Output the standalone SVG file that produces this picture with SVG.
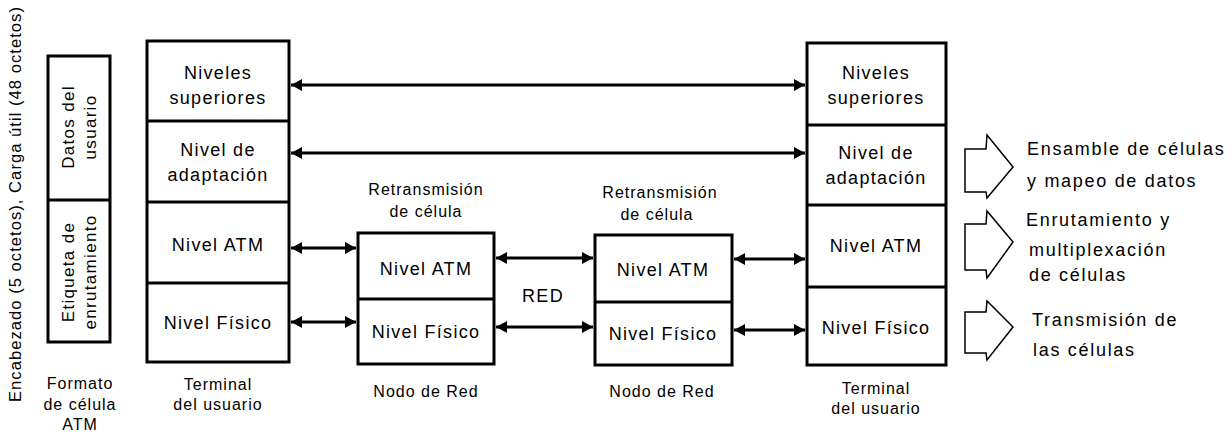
<svg xmlns="http://www.w3.org/2000/svg" width="1232" height="432" viewBox="0 0 1232 432">
<style>
.box{fill:#fff;stroke:#000;stroke-width:3}
.t{font-family:"Liberation Sans",Arial,sans-serif;font-size:18px;letter-spacing:1.3px;fill:#000;text-anchor:middle}
.s{font-family:"Liberation Sans",Arial,sans-serif;font-size:16px;letter-spacing:1px;fill:#000;text-anchor:middle}
.c{font-family:"Liberation Sans",Arial,sans-serif;font-size:17px;letter-spacing:1.3px;fill:#000;text-anchor:middle}
.r{font-family:"Liberation Sans",Arial,sans-serif;font-size:18px;letter-spacing:1.7px;fill:#000;text-anchor:start}
.con{stroke:#000;stroke-width:3;fill:none;marker-start:url(#ah);marker-end:url(#ah)}
.blk{fill:#fff;stroke:#000;stroke-width:1.5;stroke-linejoin:miter}
.div{stroke:#000;stroke-width:3}
</style>
<defs>
<marker id="ah" markerUnits="userSpaceOnUse" markerWidth="11" markerHeight="12" refX="11" refY="6" orient="auto-start-reverse">
<path d="M0,0 L11,6 L0,12 z" fill="#000"/>
</marker>
</defs>
<rect width="1232" height="432" fill="#fff"/>

<g id="cell-format">
<text class="s" transform="translate(21,204) rotate(-90)" textLength="396" lengthAdjust="spacingAndGlyphs">Encabezado (5 octetos), Carga útil (48 octetos)</text>
<rect class="box" x="48" y="56" width="62" height="286"/>
<line class="div" x1="48" y1="200" x2="110" y2="200"/>
<text class="c" transform="translate(74,127) rotate(-90)">Datos del</text>
<text class="c" transform="translate(96,127) rotate(-90)">usuario</text>
<text class="c" transform="translate(74,272) rotate(-90)">Etiqueta de</text>
<text class="c" transform="translate(96,272) rotate(-90)">enrutamiento</text>
<text class="s" x="80" y="389">Formato</text>
<text class="s" x="80" y="410">de célula</text>
<text class="s" x="80" y="430">ATM</text>
</g>

<g id="terminal-left">
<rect class="box" x="147" y="41" width="142" height="321"/>
<line class="div" x1="147" y1="121" x2="289" y2="121"/>
<line class="div" x1="147" y1="202" x2="289" y2="202"/>
<line class="div" x1="147" y1="283" x2="289" y2="283"/>
<text class="t" x="218" y="79">Niveles</text>
<text class="t" x="218" y="104">superiores</text>
<text class="t" x="218" y="156">Nivel de</text>
<text class="t" x="218" y="181">adaptación</text>
<text class="t" x="218" y="251">Nivel ATM</text>
<text class="t" x="218" y="329">Nivel Físico</text>
<text class="s" x="218" y="390">Terminal</text>
<text class="s" x="218" y="410">del usuario</text>
</g>

<g id="node-1">
<text class="s" x="426" y="195">Retransmisión</text>
<text class="s" x="426" y="217">de célula</text>
<rect class="box" x="358" y="233" width="136" height="131"/>
<line class="div" x1="358" y1="299" x2="494" y2="299"/>
<text class="t" x="426" y="275">Nivel ATM</text>
<text class="t" x="426" y="338">Nivel Físico</text>
<text class="s" x="426" y="397">Nodo de Red</text>
</g>

<g id="node-2">
<text class="s" x="660" y="198">Retransmisión</text>
<text class="s" x="657" y="220">de célula</text>
<rect class="box" x="595" y="235" width="137" height="130"/>
<line class="div" x1="595" y1="302" x2="732" y2="302"/>
<text class="t" x="663" y="276">Nivel ATM</text>
<text class="t" x="663" y="340">Nivel Físico</text>
<text class="s" x="662" y="397">Nodo de Red</text>
</g>

<g id="red-label">
<text class="t" x="543" y="302">RED</text>
</g>

<g id="terminal-right">
<rect class="box" x="807" y="43" width="139" height="322"/>
<line class="div" x1="807" y1="125" x2="946" y2="125"/>
<line class="div" x1="807" y1="205" x2="946" y2="205"/>
<line class="div" x1="807" y1="287" x2="946" y2="287"/>
<text class="t" x="876" y="79">Niveles</text>
<text class="t" x="876" y="104">superiores</text>
<text class="t" x="876" y="159">Nivel de</text>
<text class="t" x="876" y="184">adaptación</text>
<text class="t" x="876" y="252">Nivel ATM</text>
<text class="t" x="876" y="334">Nivel Físico</text>
<text class="s" x="876" y="394">Terminal</text>
<text class="s" x="876" y="414">del usuario</text>
</g>

<g id="connectors">
<line class="con" x1="291" y1="85" x2="805" y2="85"/>
<line class="con" x1="291" y1="153" x2="805" y2="153"/>
<line class="con" x1="291" y1="248" x2="356" y2="248"/>
<line class="con" x1="291" y1="322" x2="356" y2="322"/>
<line class="con" x1="496" y1="258" x2="593" y2="258"/>
<line class="con" x1="496" y1="327" x2="593" y2="327"/>
<line class="con" x1="734" y1="259" x2="805" y2="259"/>
<line class="con" x1="734" y1="330" x2="805" y2="330"/>
</g>

<g id="function-1">
<polygon class="blk" points="965,149 986,149 987,135 1013,167 987,198 986,192 965,192"/>
<text class="r" x="1027" y="155">Ensamble de células</text>
<text class="r" x="1027" y="187">y mapeo de datos</text>
</g>

<g id="function-2">
<polygon class="blk" points="965,224 986,224 987,211 1013,242 987,278 986,270 965,270"/>
<text class="r" x="1026" y="226">Enrutamiento y</text>
<text class="r" x="1029" y="256">multiplexación</text>
<text class="r" x="1029" y="281">de células</text>
</g>

<g id="function-3">
<polygon class="blk" points="965,312 986,312 987,301 1013,327 987,360 986,353 965,353"/>
<text class="r" x="1032" y="326">Transmisión de</text>
<text class="r" x="1033" y="356">las células</text>
</g>
</svg>
